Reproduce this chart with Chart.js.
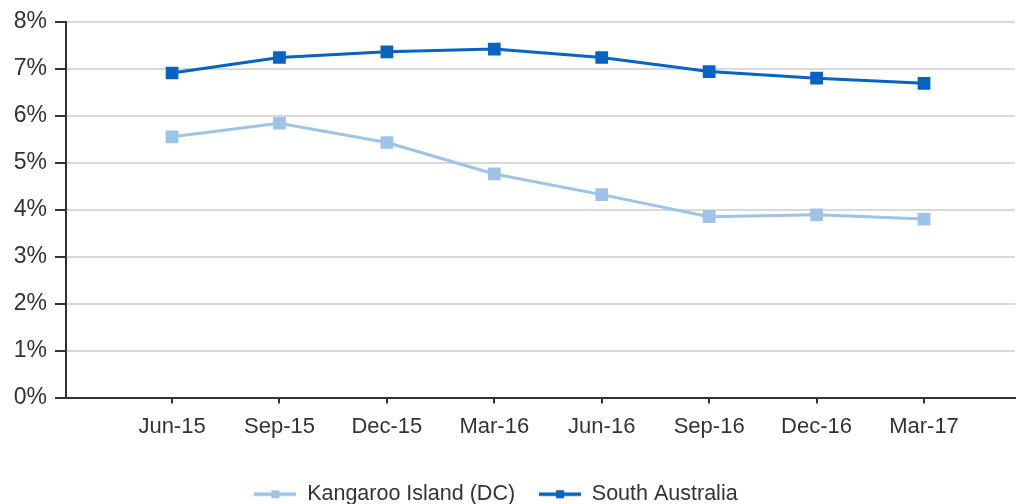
<!DOCTYPE html>
<html>
<head>
<meta charset="utf-8">
<script src="https://cdn.jsdelivr.net/npm/chart.js@4"></script>
<style>
  html, body { margin: 0; padding: 0; background: #ffffff; }
  #wrap { width: 1024px; height: 504px; }
</style>
</head>
<body>
<div id="wrap"><canvas id="c" width="1024" height="504"></canvas></div>
<script>
const categories = ['Jun-15', 'Sep-15', 'Dec-15', 'Mar-16', 'Jun-16', 'Sep-16', 'Dec-16', 'Mar-17'];
const kangarooIsland = [5.55, 5.84, 5.43, 4.76, 4.32, 3.85, 3.89, 3.80];
const southAustralia = [6.91, 7.24, 7.36, 7.42, 7.24, 6.94, 6.80, 6.69];
const yTicks = [0, 1, 2, 3, 4, 5, 6, 7, 8];
const seriesNames = ['Kangaroo Island (DC)', 'South Australia'];

const colKI = '#9DC3E6';
const colSA = '#0563C1';
const textCol = '#333333';
const fontFam = '"Liberation Sans", Arial, sans-serif';

function legendIcon(color) {
  const cv = document.createElement('canvas');
  cv.width = 42; cv.height = 12;
  const g = cv.getContext('2d');
  g.strokeStyle = color; g.lineWidth = 3.5;
  g.beginPath(); g.moveTo(0, 6); g.lineTo(42, 6); g.stroke();
  g.fillStyle = color; g.fillRect(17, 2, 8, 8);
  return cv;
}
const icons = [legendIcon(colKI), legendIcon(colSA)];

const toXY = arr => arr.map((v, i) => ({ x: i, y: v }));

const legendShift = {
  id: 'legendShift',
  afterLayout(chart) {
    if (chart.legend) { chart.legend.left -= 16; chart.legend.right -= 16; }
  }
};

new Chart(document.getElementById('c'), {
  type: 'line',
  data: {
    datasets: [
      {
        label: seriesNames[0], data: toXY(kangarooIsland),
        borderColor: colKI, backgroundColor: colKI, borderWidth: 3,
        pointStyle: 'rect', pointRadius: 9, pointBorderWidth: 0, tension: 0
      },
      {
        label: seriesNames[1], data: toXY(southAustralia),
        borderColor: colSA, backgroundColor: colSA, borderWidth: 3,
        pointStyle: 'rect', pointRadius: 9, pointBorderWidth: 0, tension: 0
      }
    ]
  },
  plugins: [legendShift],
  options: {
    responsive: false,
    animation: false,
    layout: { padding: { top: 21, right: 0, bottom: -11, left: 0 } },
    plugins: {
      tooltip: { enabled: false },
      legend: {
        position: 'bottom',
        labels: {
          color: textCol,
          font: { family: fontFam, size: 21.5 },
          usePointStyle: true,
          pointStyleWidth: 42,
          padding: 24,
          generateLabels: chart => chart.data.datasets.map((ds, i) => ({
            text: ds.label, pointStyle: icons[i], fillStyle: ds.borderColor,
            strokeStyle: ds.borderColor, lineWidth: 0, hidden: false, datasetIndex: i,
            fontColor: textCol
          }))
        }
      }
    },
    scales: {
      x: {
        type: 'linear',
        min: -0.987,
        max: 7.847,
        afterBuildTicks: s => { s.ticks = categories.map((_, i) => ({ value: i })); },
        afterFit: s => { s.height = 62; s.paddingRight = 0; s.paddingLeft = 0; },
        ticks: {
          color: textCol, font: { family: fontFam, size: 22 }, padding: 10,
          autoSkip: false, maxRotation: 0,
          callback: v => categories[v] ?? ''
        },
        grid: { drawOnChartArea: false, drawTicks: true, tickLength: 6, color: textCol, lineWidth: 2 },
        border: { color: textCol, width: 2 }
      },
      y: {
        min: 0, max: 8,
        afterBuildTicks: s => { s.ticks = yTicks.map(v => ({ value: v })); },
        afterFit: s => { s.width = 66; },
        ticks: {
          color: textCol, font: { family: fontFam, size: 23 }, padding: 8,
          callback: v => v + '%'
        },
        grid: { color: '#d9d9d9', lineWidth: 2, tickColor: textCol, tickLength: 11 },
        border: { color: textCol, width: 2 }
      }
    }
  }
});
</script>
</body>
</html>
